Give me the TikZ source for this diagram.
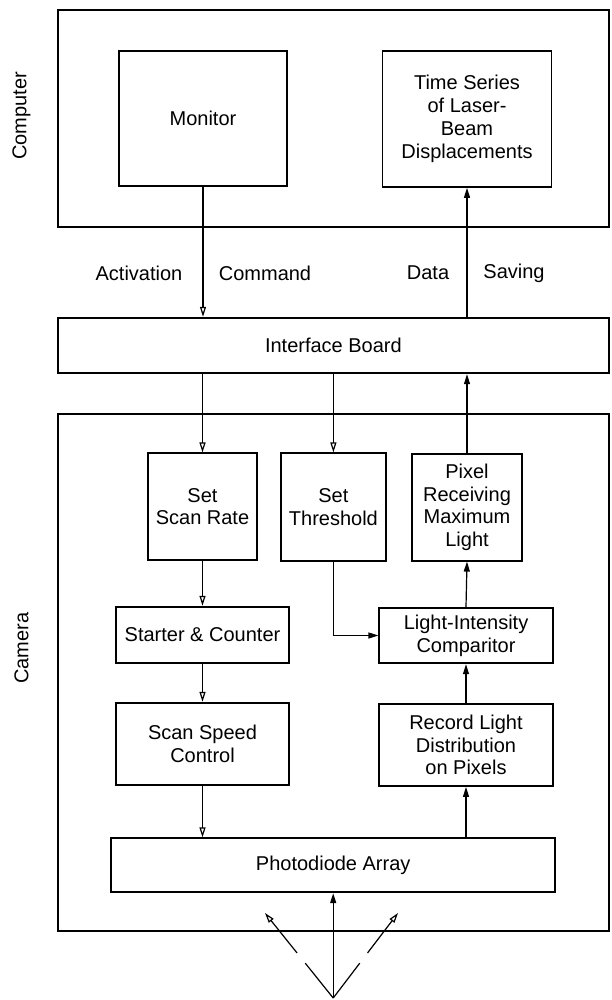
\documentclass[tikz,border=0pt]{standalone}
\usepackage{fontspec}
\setmainfont{Liberation Sans}
\usetikzlibrary{arrows.meta,calc}
\begin{document}
\begin{tikzpicture}[x=1pt,y=-1pt,
      blk/.style={draw,line width=1.8pt,inner sep=0pt,align=center},
      wire/.style={line width=1.2pt},
      hollowtip/.style={-{Triangle[open,length=10pt,width=6pt]}},
      solidtip/.style={-{Triangle[length=10pt,width=6pt]}},
      font=\fontsize{20}{22.8}\selectfont]
      \useasboundingbox (0,0) rectangle (611,1000);
      % computer side
      \path (333.4,118.3) node[blk,minimum width=551.3pt,minimum height=216.7pt] (computer) {};
      \path (21.4,116) node[rotate=90] (computerlabel) {Computer};
      \path (203,118.2) node[blk,minimum width=168pt,minimum height=135pt] (monitor) {Monitor};
      \path (467,118.8) node[blk,minimum width=169pt,minimum height=136.3pt] (timeseries) {Time Series\\of Laser-\\Beam\\Displacements};
      \path (139,273) node (activation) {Activation};
      \path (265,273) node (command) {Command};
      \path (428,273) node (data) {Data};
      \path (514,273) node (saving) {Saving};
      \path (333.4,345.5) node[blk,minimum width=551.3pt,minimum height=55.6pt] (interface) {Interface Board};
      % camera side
      \path (333.4,672.5) node[blk,minimum width=551.3pt,minimum height=517pt] (camera) {};
      \path (21.4,648) node[rotate=90] (cameralabel) {Camera};
      \path (202.5,506.7) node[blk,minimum width=109.5pt,minimum height=106.7pt] (scanrate) {Set\\Scan Rate};
      \path (333.4,507) node[blk,minimum width=104.4pt,minimum height=107.4pt] (threshold) {Set\\Threshold};
      \path (467,507.3) node[blk,minimum width=110.7pt,minimum height=106.7pt] (pixel) {Pixel\\Receiving\\Maximum\\Light};
      \path (202.5,634.7) node[blk,minimum width=173pt,minimum height=56pt] (starter) {Starter \& Counter};
      \path (466,635.5) node[blk,minimum width=173.4pt,minimum height=55.6pt] (comparitor) {Light-Intensity\\Comparitor};
      \path (202.5,743.9) node[blk,minimum width=173.4pt,minimum height=82.3pt] (speed) {Scan Speed\\Control};
      \path (466,745) node[blk,minimum width=173.4pt,minimum height=82pt] (record) {Record Light\\Distribution\\on Pixels};
      \path (333.2,865.3) node[blk,minimum width=444.3pt,minimum height=54pt] (photo) {Photodiode Array};
      \coordinate (src) at (333.2,998);
      \coordinate (rayl) at (265,913);
      \coordinate (rayr) at (398,913);
      % connectors
      \draw[wire,hollowtip] (monitor.south) -- (monitor.south |- interface.north);
      \draw[wire,solidtip] (timeseries.south |- interface.north) -- (timeseries.south);
      \draw[wire,hollowtip] (scanrate.north |- interface.south) -- (scanrate.north);
      \draw[wire,hollowtip] (threshold.north |- interface.south) -- (threshold.north);
      \draw[wire,solidtip] (pixel.north) -- (pixel.north |- interface.south);
      \draw[wire,hollowtip] (scanrate.south) -- (starter.north);
      \draw[wire,hollowtip] (starter.south) -- (speed.north);
      \draw[wire,hollowtip] (speed.south) -- (speed.south |- photo.north);
      \draw[wire,solidtip] (threshold.south) |- (comparitor.west);
      \draw[wire,solidtip] (comparitor.north) -- (pixel.south);
      \draw[wire,solidtip] (record.north) -- (comparitor.south);
      \draw[wire,solidtip] (record.south |- photo.north) -- (record.south);
      \draw[wire,solidtip] (src) -- (photo.south);
      \draw[wire] (src) -- ($(src)!0.41!(rayl)$);
      \draw[wire,hollowtip] ($(src)!0.53!(rayl)$) -- (rayl);
      \draw[wire] (src) -- ($(src)!0.41!(rayr)$);
      \draw[wire,hollowtip] ($(src)!0.53!(rayr)$) -- (rayr);
     \end{tikzpicture}
\end{document}
